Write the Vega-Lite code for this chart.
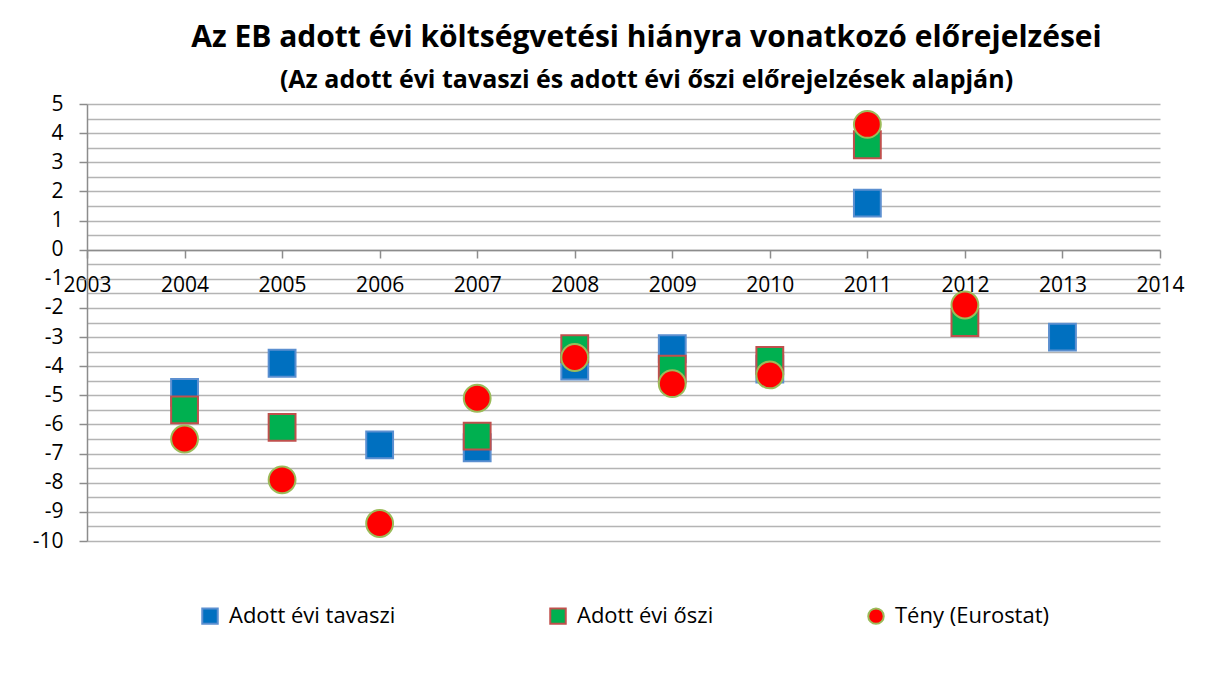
{
  "$schema": "https://vega.github.io/schema/vega-lite/v6.json",
  "width": 1073,
  "height": 437,
  "autosize": {"type": "none"},
  "padding": {"left": 87, "top": 104, "right": 48, "bottom": 136},
  "background": "white",
  "title": {
    "text": "Az EB adott évi költségvetési hiányra vonatkozó előrejelzései",
    "subtitle": "(Az adott évi tavaszi és adott évi őszi előrejelzések alapján)",
    "anchor": "middle",
    "dx": 23,
    "offset": 0,
    "font": "Open Sans",
    "fontSize": 30,
    "fontWeight": "bold",
    "color": "#000000",
    "subtitleFont": "Open Sans",
    "subtitleFontSize": 25,
    "subtitleFontWeight": "bold",
    "subtitleColor": "#000000",
    "subtitlePadding": 15
  },
  "data": {
    "values": [
      {"ev": 2004, "sorozat": "Adott évi tavaszi", "ertek": -4.9},
      {"ev": 2005, "sorozat": "Adott évi tavaszi", "ertek": -3.9},
      {"ev": 2006, "sorozat": "Adott évi tavaszi", "ertek": -6.7},
      {"ev": 2007, "sorozat": "Adott évi tavaszi", "ertek": -6.8},
      {"ev": 2008, "sorozat": "Adott évi tavaszi", "ertek": -4.0},
      {"ev": 2009, "sorozat": "Adott évi tavaszi", "ertek": -3.4},
      {"ev": 2010, "sorozat": "Adott évi tavaszi", "ertek": -4.1},
      {"ev": 2011, "sorozat": "Adott évi tavaszi", "ertek": 1.6},
      {"ev": 2013, "sorozat": "Adott évi tavaszi", "ertek": -3.0},
      {"ev": 2004, "sorozat": "Adott évi őszi", "ertek": -5.5},
      {"ev": 2005, "sorozat": "Adott évi őszi", "ertek": -6.1},
      {"ev": 2007, "sorozat": "Adott évi őszi", "ertek": -6.4},
      {"ev": 2008, "sorozat": "Adott évi őszi", "ertek": -3.4},
      {"ev": 2009, "sorozat": "Adott évi őszi", "ertek": -4.1},
      {"ev": 2010, "sorozat": "Adott évi őszi", "ertek": -3.8},
      {"ev": 2011, "sorozat": "Adott évi őszi", "ertek": 3.6},
      {"ev": 2012, "sorozat": "Adott évi őszi", "ertek": -2.5},
      {"ev": 2004, "sorozat": "Tény (Eurostat)", "ertek": -6.5},
      {"ev": 2005, "sorozat": "Tény (Eurostat)", "ertek": -7.9},
      {"ev": 2006, "sorozat": "Tény (Eurostat)", "ertek": -9.4},
      {"ev": 2007, "sorozat": "Tény (Eurostat)", "ertek": -5.1},
      {"ev": 2008, "sorozat": "Tény (Eurostat)", "ertek": -3.7},
      {"ev": 2009, "sorozat": "Tény (Eurostat)", "ertek": -4.6},
      {"ev": 2010, "sorozat": "Tény (Eurostat)", "ertek": -4.3},
      {"ev": 2011, "sorozat": "Tény (Eurostat)", "ertek": 4.3},
      {"ev": 2012, "sorozat": "Tény (Eurostat)", "ertek": -1.9}
    ]
  },
  "mark": {"type": "point", "filled": true, "size": 720, "strokeWidth": 2, "opacity": 1},
  "encoding": {
    "x": {
      "field": "ev",
      "type": "quantitative",
      "scale": {"domain": [2003, 2014], "nice": false, "zero": false},
      "axis": {
        "title": null,
        "values": [2003, 2004, 2005, 2006, 2007, 2008, 2009, 2010, 2011, 2012, 2013, 2014],
        "format": "d",
        "offset": -291,
        "grid": false,
        "domainColor": "#8c8c8c",
        "domainWidth": 1.5,
        "tickColor": "#8c8c8c",
        "tickWidth": 1.5,
        "tickSize": 8,
        "labelFont": "Open Sans",
        "labelFontSize": 21,
        "labelColor": "#000000",
        "labelPadding": 16,
        "labelFlush": false,
        "labelOverlap": false
      }
    },
    "y": {
      "field": "ertek",
      "type": "quantitative",
      "scale": {"domain": [-10, 5], "nice": false, "zero": false},
      "axis": {
        "title": null,
        "values": [-10, -9.5, -9, -8.5, -8, -7.5, -7, -6.5, -6, -5.5, -5, -4.5, -4, -3.5, -3, -2.5, -2, -1.5, -1, -0.5, 0, 0.5, 1, 1.5, 2, 2.5, 3, 3.5, 4, 4.5, 5],
        "labelExpr": "datum.value % 1 === 0 ? toString(datum.value) : ''",
        "grid": true,
        "gridColor": "#b4b4b4",
        "gridWidth": 1.5,
        "gridOpacity": 1,
        "domainColor": "#8c8c8c",
        "domainWidth": 1.5,
        "tickColor": {"condition": {"test": "datum.value % 1 !== 0", "value": "transparent"}, "value": "#8c8c8c"},
        "tickWidth": 1.5,
        "tickSize": 8,
        "labelFont": "Open Sans",
        "labelFontSize": 21,
        "labelColor": "#000000",
        "labelPadding": 16,
        "labelFlush": false,
        "labelOverlap": false
      }
    },
    "fill": {
      "field": "sorozat",
      "type": "nominal",
      "scale": {
        "domain": ["Adott évi tavaszi", "Adott évi őszi", "Tény (Eurostat)"],
        "range": ["#0070c0", "#00b050", "#ff0000"]
      },
      "legend": {
        "title": null,
        "orient": "none",
        "legendX": 112,
        "legendY": 501,
        "direction": "horizontal",
        "columnPadding": 150,
        "labelFont": "Open Sans",
        "labelFontSize": 22,
        "labelLimit": 400,
        "labelColor": "#000000",
        "symbolSize": 240,
        "symbolStrokeWidth": 2,
        "labelOffset": 8
      }
    },
    "shape": {
      "field": "sorozat",
      "type": "nominal",
      "scale": {
        "domain": ["Adott évi tavaszi", "Adott évi őszi", "Tény (Eurostat)"],
        "range": ["square", "square", "circle"]
      }
    },
    "stroke": {
      "field": "sorozat",
      "type": "nominal",
      "scale": {
        "domain": ["Adott évi tavaszi", "Adott évi őszi", "Tény (Eurostat)"],
        "range": ["#5b8fd0", "#c0504d", "#9bbb59"]
      }
    }
  },
  "config": {
    "view": {"stroke": null}
  }
}
